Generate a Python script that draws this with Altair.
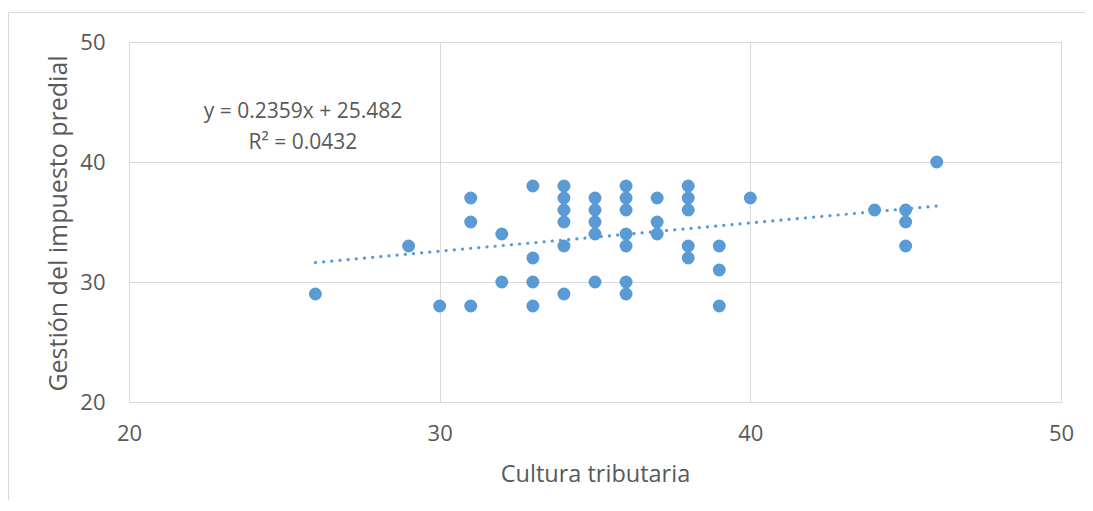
import altair as alt
import pandas as pd

# Data
x_vals = [26, 29, 30, 31, 31, 31, 32, 32, 33, 33, 33, 33,
          34, 34, 34, 34, 34, 34, 35, 35, 35, 35, 35,
          36, 36, 36, 36, 36, 36, 36, 37, 37, 37,
          38, 38, 38, 38, 38, 39, 39, 39, 40, 44, 45, 45, 45, 46]
y_vals = [29, 33, 28, 37, 35, 28, 34, 30, 38, 32, 30, 28,
          38, 37, 36, 35, 33, 29, 37, 36, 35, 34, 30,
          38, 37, 36, 34, 33, 30, 29, 37, 35, 34,
          38, 37, 36, 33, 32, 33, 31, 28, 37, 36, 36, 35, 33, 40]

slope = 0.2359
intercept = 25.482
r2 = 0.0432
eq_lines = [f"y = {slope}x + {intercept}", f"R² = {r2}"]

x_title = "Cultura tributaria"
y_title = "Gestión del impuesto predial"
ticks = [20, 30, 40, 50]

pts = pd.DataFrame({"x": x_vals, "y": y_vals})
xmin, xmax = min(x_vals), max(x_vals)
trend = pd.DataFrame({"x": [xmin, xmax],
                      "y": [slope * xmin + intercept, slope * xmax + intercept]})
eq = pd.DataFrame({"t": eq_lines, "x": [25.6, 25.6], "y": [44.17, 41.6]})

FONT = "Open Sans"
TXT = "#595959"
BLUE = "#5B9BD5"
GRID = "#D9D9D9"

W, H = 932, 360

xs = alt.Scale(domain=[20, 50], nice=False)
ys = alt.Scale(domain=[20, 50], nice=False)

xax = alt.Axis(values=ticks, grid=True, gridColor=GRID, gridWidth=1, ticks=False,
               domain=False, labelFont=FONT, labelFontSize=22, labelColor=TXT,
               labelPadding=21, labelFlush=False,
               title=x_title, titleFont=FONT, titleFontSize=23.5,
               titleFontWeight="normal", titleColor=TXT, titleX=466, titleY=72,
               titleBaseline="middle", titleAlign="center")
yax = alt.Axis(values=ticks, grid=True, gridColor=GRID, gridWidth=1, ticks=False,
               domain=False, labelFont=FONT, labelFontSize=22, labelColor=TXT,
               labelPadding=24, labelFlush=False,
               title=y_title, titleFont=FONT, titleFontSize=25,
               titleFontWeight="normal", titleColor=TXT, titleX=-71, titleY=181,
               titleAngle=-90, titleBaseline="middle", titleAlign="center")

points = alt.Chart(pts).mark_circle(size=168, color=BLUE, opacity=1).encode(
    x=alt.X("x:Q", scale=xs, axis=xax),
    y=alt.Y("y:Q", scale=ys, axis=yax),
)

line = alt.Chart(trend).mark_line(color=BLUE, strokeWidth=3.2, strokeDash=[0.1, 8.1],
                                  strokeCap="round").encode(
    x=alt.X("x:Q", scale=xs),
    y=alt.Y("y:Q", scale=ys),
)

eqtext = alt.Chart(eq).mark_text(font=FONT, fontSize=21, color=TXT, align="center",
                                 baseline="middle").encode(
    x=alt.X("x:Q", scale=xs),
    y=alt.Y("y:Q", scale=ys),
    text="t:N",
)

border_df = pd.DataFrame({"k": [0]})
left_border = alt.Chart(border_df).mark_rule(color=GRID, strokeWidth=1).encode(
    x=alt.value(-120.5), y=alt.value(-29.5), y2=alt.value(470))
top_border = alt.Chart(border_df).mark_rule(color=GRID, strokeWidth=1).encode(
    x=alt.value(-120.5), x2=alt.value(960), y=alt.value(-29.5))

chart = alt.layer(left_border, top_border, points, line, eqtext).properties(
    width=W, height=H,
    autosize=alt.AutoSizeParams(type="none"),
    padding={"left": 121, "top": 34, "right": 24, "bottom": 98},
).configure_view(stroke=None).configure(background="white")

chart.save("out.html", embed_options={"renderer": "svg", "actions": False})
